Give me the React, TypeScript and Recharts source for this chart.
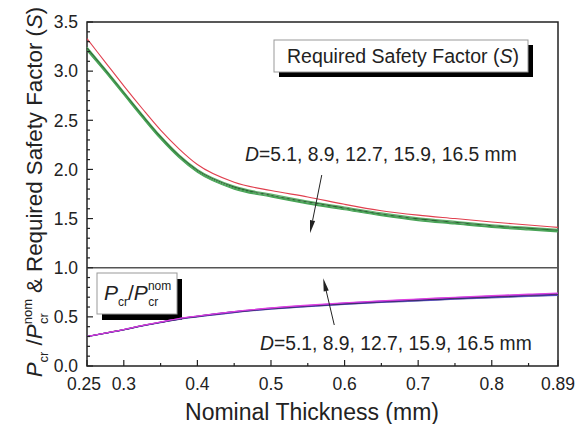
import { LineChart, Line, XAxis, YAxis, ReferenceLine, ReferenceArea } from 'recharts'

// nominal thickness (mm)
const thickness = [0.25, 0.275, 0.3, 0.325, 0.35, 0.375, 0.4, 0.45, 0.5, 0.55, 0.6, 0.65, 0.7, 0.75, 0.8, 0.85, 0.89]

// required safety factor S, per tube diameter D
const safetyD51 = [3.33, 3.09, 2.85, 2.62, 2.4, 2.21, 2.05, 1.87, 1.785, 1.72, 1.645, 1.58, 1.535, 1.5, 1.465, 1.435, 1.41]
const safetyD89 = [3.245, 3.02, 2.79, 2.56, 2.34, 2.15, 2.0, 1.83, 1.748, 1.678, 1.618, 1.558, 1.508, 1.472, 1.437, 1.41, 1.39]
const safetyD127 = [3.235, 3.01, 2.78, 2.55, 2.33, 2.14, 1.99, 1.82, 1.738, 1.668, 1.607, 1.547, 1.497, 1.462, 1.427, 1.4, 1.38]
const safetyD159 = [3.22, 3.0, 2.77, 2.54, 2.32, 2.13, 1.98, 1.81, 1.728, 1.658, 1.598, 1.538, 1.488, 1.452, 1.418, 1.392, 1.372]
const safetyD165 = [3.21, 2.99, 2.76, 2.53, 2.31, 2.12, 1.97, 1.8, 1.72, 1.65, 1.59, 1.53, 1.48, 1.445, 1.41, 1.385, 1.365]

// Pcr / Pcr_nom, per tube diameter D
const ratioD51 = [0.3, 0.336, 0.372, 0.412, 0.448, 0.483, 0.509, 0.555, 0.591, 0.619, 0.643, 0.664, 0.682, 0.7, 0.716, 0.731, 0.742]
const ratioD89 = [0.3, 0.335, 0.371, 0.411, 0.446, 0.481, 0.507, 0.552, 0.588, 0.615, 0.639, 0.659, 0.677, 0.695, 0.71, 0.725, 0.736]
const ratioD127 = [0.3, 0.335, 0.37, 0.41, 0.445, 0.48, 0.505, 0.55, 0.585, 0.612, 0.635, 0.655, 0.672, 0.69, 0.705, 0.72, 0.73]
const ratioD159 = [0.3, 0.334, 0.369, 0.408, 0.443, 0.477, 0.502, 0.546, 0.58, 0.607, 0.629, 0.649, 0.666, 0.683, 0.698, 0.712, 0.722]
const ratioD165 = [0.299, 0.333, 0.368, 0.407, 0.441, 0.475, 0.5, 0.544, 0.578, 0.604, 0.626, 0.646, 0.662, 0.679, 0.694, 0.708, 0.718]

const xMajorTicks = [0.25, 0.3, 0.4, 0.5, 0.6, 0.7, 0.8, 0.89]
const xMinorTicks = [0.35, 0.45, 0.55, 0.65, 0.75, 0.85]
const yMajorTicks = [0, 0.5, 1, 1.5, 2, 2.5, 3, 3.5]
const yMinorTicks = [0.1, 0.2, 0.3, 0.4, 0.6, 0.7, 0.8, 0.9, 1.1, 1.2, 1.3, 1.4, 1.6, 1.7, 1.8, 1.9,
  2.1, 2.2, 2.3, 2.4, 2.6, 2.7, 2.8, 2.9, 3.1, 3.2, 3.3, 3.4]

const rows = thickness.map((t, i) => ({
  t,
  s51: safetyD51[i], s89: safetyD89[i], s127: safetyD127[i], s159: safetyD159[i], s165: safetyD165[i],
  r51: ratioD51[i], r89: ratioD89[i], r127: ratioD127[i], r159: ratioD159[i], r165: ratioD165[i],
}))

const FONT = '"Liberation Sans", Arial, sans-serif'
const INK = '#222'

function XTick({ x, y, payload }: any) {
  const major = xMajorTicks.includes(payload.value)
  // first label sits a bit left of its tick in the original
  const shift = payload.value === 0.25 ? -3 : 0
  return (
    <g>
      <line x1={x} y1={y} x2={x} y2={y - (major ? 6 : 3)} stroke={INK} strokeWidth={1.2} />
      {major && (
        <text x={x + shift} y={y + 24} textAnchor="middle" fontSize={17.5} fill={INK} fontFamily={FONT}>
          {String(payload.value)}
        </text>
      )}
    </g>
  )
}

function YTick({ x, y, payload }: any) {
  const major = yMajorTicks.includes(payload.value)
  return (
    <g>
      <line x1={x} y1={y} x2={x + (major ? 6 : 3)} y2={y} stroke={INK} strokeWidth={1.2} />
      {major && (
        <text x={x - 9} y={y} dy="0.36em" textAnchor="end" fontSize={17.5} fill={INK} fontFamily={FONT}>
          {payload.value.toFixed(1)}
        </text>
      )}
    </g>
  )
}

function Arrow(props: any) {
  const { x1, y1, x2, y2 } = props
  const ang = Math.atan2(y2 - y1, x2 - x1)
  const len = 13
  const half = 2.6
  const bx = x2 - len * Math.cos(ang)
  const by = y2 - len * Math.sin(ang)
  const px = -Math.sin(ang) * half
  const py = Math.cos(ang) * half
  return (
    <g>
      <line x1={x1} y1={y1} x2={bx} y2={by} stroke={INK} strokeWidth={1} />
      <polygon points={`${x2},${y2} ${bx + px},${by + py} ${bx - px},${by - py}`} fill={INK} />
    </g>
  )
}

export default function App() {
  return (
    <div style={{ position: 'absolute', left: 0, top: 0, background: '#fff' }}>
      <LineChart width={585} height={424} data={rows} margin={{ top: 22, right: 27, bottom: 28, left: 27 }}>
        <XAxis dataKey="t" type="number" domain={[0.25, 0.89]} ticks={[...xMajorTicks, ...xMinorTicks]} interval={0}
          tickSize={0} tickMargin={0} axisLine={false} tickLine={false} height={30} tick={(p: any) => <XTick {...p} />} />
        <YAxis type="number" domain={[0, 3.5]} ticks={[...yMajorTicks, ...yMinorTicks]} interval={0}
          tickSize={0} tickMargin={0} axisLine={false} tickLine={false} width={60} tick={(p: any) => <YTick {...p} />} />
        <ReferenceArea x1={0.25} x2={0.89} y1={0} y2={3.5} fill="none" stroke={INK} strokeWidth={1.5} ifOverflow="visible" />
        <ReferenceLine y={1} stroke="#555" strokeWidth={1.5} />

        <Line dataKey="s51" type="monotone" stroke="#e0404f" strokeWidth={1.1} dot={false} isAnimationActive={false} />
        <Line dataKey="s89" type="monotone" stroke="#5fb36a" strokeWidth={1.2} dot={false} isAnimationActive={false} />
        <Line dataKey="s127" type="monotone" stroke="#2a5a30" strokeWidth={1.1} dot={false} isAnimationActive={false} />
        <Line dataKey="s159" type="monotone" stroke="#3d9a4c" strokeWidth={1.2} dot={false} isAnimationActive={false} />
        <Line dataKey="s165" type="monotone" stroke="#48a356" strokeWidth={1.2} dot={false} isAnimationActive={false} />

        <Line dataKey="r165" type="monotone" stroke="#7a7aa8" strokeWidth={1.2} dot={false} isAnimationActive={false} />
        <Line dataKey="r159" type="monotone" stroke="#4a3cc0" strokeWidth={1.2} dot={false} isAnimationActive={false} />
        <Line dataKey="r127" type="monotone" stroke="#222" strokeWidth={1.2} dot={false} isAnimationActive={false} />
        <Line dataKey="r89" type="monotone" stroke="#8a30c8" strokeWidth={1.3} dot={false} isAnimationActive={false} />
        <Line dataKey="r51" type="monotone" stroke="#e040e0" strokeWidth={1.1} dot={false} isAnimationActive={false} />

        <ReferenceLine segment={[{ x: 0.569, y: 1.943 }, { x: 0.553, y: 1.35 }]} shape={(p: any) => <Arrow {...p} />} ifOverflow="visible" />
        <ReferenceLine segment={[{ x: 0.586, y: 0.417 }, { x: 0.571, y: 0.892 }]} shape={(p: any) => <Arrow {...p} />} ifOverflow="visible" />

        <g fontFamily={FONT} fill={INK}>
          <rect x={279} y={45} width={254} height={32} fill="#000" />
          <rect x={274} y={40} width={254} height={32} fill="#fff" stroke="#999" strokeWidth={1} />
          <text x={287} y={63} fontSize={19.5}>
            Required Safety Factor (<tspan fontStyle="italic">S</tspan>)
          </text>

          <rect x={102} y={279} width={80} height={41} fill="#000" />
          <rect x={97} y={273} width={80} height={41} fill="#fff" stroke="#999" strokeWidth={1} />
          <text x={104} y={300} fontSize={21}>
            <tspan fontStyle="italic">P</tspan>
            <tspan fontSize={12} dy={6}>cr</tspan>
            <tspan dy={-6}>/</tspan>
            <tspan fontStyle="italic">P</tspan>
            <tspan fontSize={12} dy={-10}>nom</tspan>
            <tspan fontSize={12} dx={-23} dy={16}>cr</tspan>
          </text>

          <text x={245} y={161} fontSize={19.3}>
            <tspan fontStyle="italic">D</tspan>=5.1, 8.9, 12.7, 15.9, 16.5 mm
          </text>
          <text x={260} y={350} fontSize={19.3}>
            <tspan fontStyle="italic">D</tspan>=5.1, 8.9, 12.7, 15.9, 16.5 mm
          </text>

          <text x={312} y={420} textAnchor="middle" fontSize={23}>Nominal Thickness (mm)</text>

          <text x={0} y={0} transform="translate(42,192) rotate(-90)" textAnchor="middle" fontSize={22.3}>
            <tspan fontStyle="italic">P</tspan>
            <tspan fontSize={13} dy={6}>cr</tspan>
            <tspan dy={-6}>{' /'}</tspan>
            <tspan fontStyle="italic">P</tspan>
            <tspan fontSize={13} dy={-10}>nom</tspan>
            <tspan fontSize={13} dx={-25} dy={16}>cr</tspan>
            <tspan dx={14} dy={-6}>{' & Required Safety Factor ('}</tspan>
            <tspan fontStyle="italic">S</tspan>
            <tspan>)</tspan>
          </text>
        </g>
      </LineChart>
    </div>
  )
}
